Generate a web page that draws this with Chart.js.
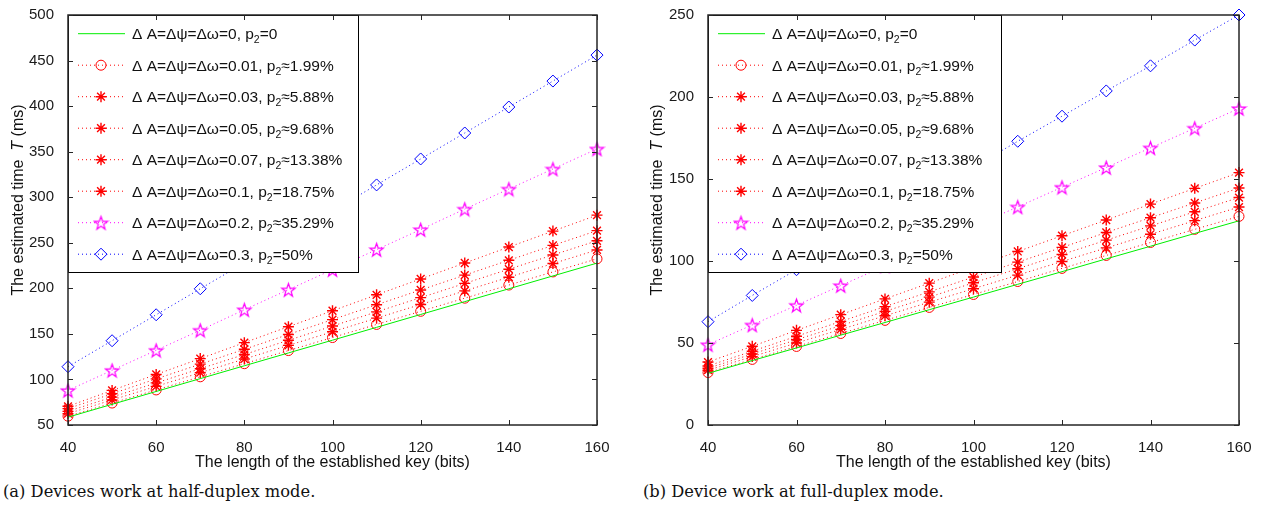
<!DOCTYPE html>
<html>
<head>
<meta charset="utf-8">
<script src="https://cdn.jsdelivr.net/npm/chart.js@4.4.0/dist/chart.umd.min.js"></script>
<style>
  body { margin: 0; background: #fff; width: 1261px; height: 505px; position: relative; overflow: hidden; }
  .box { position: absolute; top: 0; height: 478px; }
  .cap { position: absolute; top: 482px; font-family: "DejaVu Serif", serif; font-size: 16.3px; color: #111; white-space: nowrap; }
</style>
</head>
<body>
<div class="box" style="left:0;width:640px"><canvas id="half"></canvas></div>
<div class="box" style="left:640px;width:621px"><canvas id="full"></canvas></div>
<div class="cap" style="left:3px">(a) Devices work at half-duplex mode.</div>
<div class="cap" style="left:643px">(b) Device work at full-duplex mode.</div>
<script>
// key length (bits)
const keyBits = [40, 50, 60, 70, 80, 90, 100, 110, 120, 130, 140, 150, 160];

const seriesLabels = [
  'Δ A=Δψ=Δω=0, p₂=0',
  'Δ A=Δψ=Δω=0.01, p₂≈1.99%',
  'Δ A=Δψ=Δω=0.03, p₂≈5.88%',
  'Δ A=Δψ=Δω=0.05, p₂≈9.68%',
  'Δ A=Δψ=Δω=0.07, p₂≈13.38%',
  'Δ A=Δψ=Δω=0.1, p₂=18.75%',
  'Δ A=Δψ=Δω=0.2, p₂≈35.29%',
  'Δ A=Δψ=Δω=0.3, p₂=50%'
];

// (a) half-duplex, T in ms
const halfIdeal  = [58.6, 72.7, 86.8, 100.9, 115.0, 129.1, 143.1, 157.2, 171.3, 185.4, 199.5, 213.6, 227.7];
const halfErr001 = [59.7, 74.1, 88.5, 102.9, 117.3, 131.7, 146.0, 160.4, 174.8, 189.2, 203.6, 218.0, 232.4];
const halfErr003 = [62.5, 77.5, 92.4, 107.4, 122.4, 137.4, 152.3, 167.3, 182.3, 197.2, 212.2, 227.2, 242.1];
const halfErr005 = [65.0, 80.6, 96.2, 111.8, 127.4, 143.0, 158.6, 174.2, 189.8, 205.4, 221.0, 236.6, 252.2];
const halfErr007 = [68.0, 84.3, 100.6, 116.8, 133.1, 149.4, 165.7, 182.0, 198.2, 214.5, 230.8, 247.1, 263.3];
const halfErr01  = [70.5, 88.0, 105.5, 122.9, 140.4, 157.9, 175.4, 192.9, 210.3, 227.8, 245.3, 262.8, 280.3];
const halfErr02  = [88, 110, 132, 154, 176.5, 198.5, 220.5, 242.5, 264.5, 287, 309, 331, 353];
const halfErr03  = [114, 142.5, 171, 199.5, 228, 256.5, 285, 313.5, 342, 370.5, 399, 427.5, 456];

// (b) full-duplex, T in ms
const fullIdeal  = [31.5, 39.3, 47.0, 54.8, 62.5, 70.3, 78.0, 85.8, 93.5, 101.3, 109.0, 116.8, 124.5];
const fullErr001 = [32.0, 40.0, 47.9, 55.8, 63.8, 71.7, 79.6, 87.5, 95.5, 103.4, 111.3, 119.3, 127.2];
const fullErr003 = [33.4, 41.7, 50.0, 58.3, 66.6, 74.9, 83.1, 91.4, 99.7, 108.0, 116.3, 124.6, 132.9];
const fullErr005 = [34.6, 43.3, 52.0, 60.6, 69.3, 78.0, 86.7, 95.3, 104.0, 112.7, 121.4, 130.0, 138.7];
const fullErr007 = [36.0, 45.0, 54.1, 63.1, 72.2, 81.2, 90.2, 99.3, 108.3, 117.4, 126.4, 135.4, 144.5];
const fullErr01  = [38.4, 48.0, 57.7, 67.3, 76.9, 86.5, 96.2, 105.8, 115.4, 125.0, 134.7, 144.3, 153.9];
const fullErr02  = [49, 61, 73, 85, 97, 109, 121, 133, 145, 157, 169, 181, 193];
const fullErr03  = [63, 79, 94.7, 110.3, 126, 141.7, 157.3, 173, 188.3, 203.7, 219, 234.7, 250];

const xTitle = 'The length of the established key (bits)';
const FONT = '"Liberation Sans", Arial, sans-serif';
const AXIS = '#262626';

// matlab style pentagram marker
function pentagram(color, r) {
  const c = document.createElement('canvas');
  const s = Math.ceil(2 * r + 3);
  c.width = c.height = s;
  const g = c.getContext('2d');
  g.strokeStyle = color;
  g.lineWidth = 1.2;
  g.beginPath();
  for (let i = 0; i < 10; i++) {
    const a = -Math.PI / 2 + i * Math.PI / 5;
    const rr = i % 2 ? r * 0.4 : r;
    g.lineTo(s / 2 + rr * Math.cos(a), s / 2 + 0.8 + rr * Math.sin(a));
  }
  g.closePath();
  g.stroke();
  return c;
}

function makeSets(vals) {
  const red = '#ff0000';
  const dotted = (color, style, r, bw, data) => ({
    data: keyBits.map((x, i) => ({ x, y: data[i] })),
    borderColor: color, borderWidth: 1, borderDash: [1, 3],
    pointStyle: style, pointRadius: r, pointBorderColor: color,
    pointBackgroundColor: 'rgba(0,0,0,0)', pointBorderWidth: bw,
    clip: false
  });
  return [
    { data: keyBits.map((x, i) => ({ x, y: vals[0][i] })), borderColor: '#00ee00', borderWidth: 1,
      pointRadius: 0, clip: false },
    dotted(red, 'circle', 5, 1, vals[1]),
    dotted(red, 'star', 5.5, 1.4, vals[2]),
    dotted(red, 'star', 5.5, 1.4, vals[3]),
    dotted(red, 'star', 5.5, 1.4, vals[4]),
    dotted(red, 'star', 5.5, 1.4, vals[5]),
    dotted('#ff00ff', pentagram('#ff00ff', 7), 7, 1, vals[6]),
    dotted('#0000ff', 'rectRot', 6, 1, vals[7])
  ].map((d, i) => Object.assign(d, { label: seriesLabels[i] }));
}

function drawLabel(ctx, text, x, y) {
  const parts = text.split('₂');
  ctx.font = '15.5px ' + FONT;
  ctx.fillText(parts[0], x, y);
  x += ctx.measureText(parts[0]).width;
  ctx.font = '10.5px ' + FONT;
  ctx.fillText('2', x, y + 4);
  x += ctx.measureText('2').width;
  ctx.font = '15.5px ' + FONT;
  ctx.fillText(parts[1], x, y);
}

const framePlugin = {
  id: 'frame',
  afterDatasetsDraw(chart, args, opts) {
    const ctx = chart.ctx;
    const { left, top } = chart.chartArea;
    ctx.save();
    ctx.fillStyle = '#fff';
    ctx.fillRect(left, top, opts.legendWidth, 257);
    ctx.strokeStyle = '#000';
    ctx.lineWidth = 1;
    ctx.strokeRect(left + 0.5, top + 0.5, opts.legendWidth, 257);
    chart.data.datasets.forEach((ds, i) => {
      const y = top + 18.7 + 31.5 * i;
      ctx.strokeStyle = ds.borderColor;
      ctx.lineWidth = 1;
      ctx.setLineDash(ds.borderDash || []);
      ctx.beginPath();
      ctx.moveTo(left + 10, y);
      ctx.lineTo(left + 57, y);
      ctx.stroke();
      ctx.setLineDash([]);
      if (ds.pointRadius > 0) {
        ctx.fillStyle = 'rgba(0,0,0,0)';
        ctx.lineWidth = ds.pointBorderWidth;
        Chart.helpers.drawPoint(ctx, { pointStyle: ds.pointStyle, radius: ds.pointRadius,
          rotation: 0, borderWidth: ds.pointBorderWidth }, left + 33, y);
      }
      ctx.fillStyle = '#111';
      ctx.textBaseline = 'alphabetic';
      ctx.textAlign = 'left';
      drawLabel(ctx, ds.label, left + 64, y + 5.5);
    });
    ctx.restore();
  },
  afterDraw(chart, args, opts) {
    const ctx = chart.ctx;
    const { left, right, top, bottom } = chart.chartArea;
    const xs = chart.scales.x, ys = chart.scales.y;
    ctx.save();
    ctx.strokeStyle = AXIS;
    ctx.lineWidth = 1.5;
    ctx.strokeRect(left, top, right - left, bottom - top);
    ctx.lineWidth = 1;
    ctx.beginPath();
    ys.ticks.forEach(t => {
      const p = Math.round(ys.getPixelForValue(t.value)) + 0.5;
      ctx.moveTo(left, p); ctx.lineTo(left + 5, p);
      ctx.moveTo(right, p); ctx.lineTo(right - 5, p);
    });
    xs.ticks.forEach(t => {
      const p = Math.round(xs.getPixelForValue(t.value)) + 0.5;
      ctx.moveTo(p, bottom); ctx.lineTo(p, bottom - 5);
      ctx.moveTo(p, top); ctx.lineTo(p, top + 5);
    });
    ctx.stroke();

    // axis titles
    ctx.fillStyle = '#111';
    ctx.textBaseline = 'alphabetic';
    ctx.textAlign = 'center';
    ctx.font = '16px ' + FONT;
    ctx.fillText(xTitle, (left + right) / 2, 466.7);

    const a = 'The estimated time  ', b = 'T', c = ' (ms)';
    ctx.font = '16px ' + FONT;
    const wa = ctx.measureText(a).width, wc = ctx.measureText(c).width;
    ctx.font = 'italic 16px ' + FONT;
    const wb = ctx.measureText(b).width;
    ctx.translate(opts.yTitleX, 200);
    ctx.rotate(-Math.PI / 2);
    ctx.textAlign = 'left';
    let x = -(wa + wb + wc) / 2;
    ctx.font = '16px ' + FONT;
    ctx.fillText(a, x, 0);
    ctx.font = 'italic 16px ' + FONT;
    ctx.fillText(b, x + wa, 0);
    ctx.font = '16px ' + FONT;
    ctx.fillText(c, x + wa + wb, 0);
    ctx.restore();
  }
};

function makeChart(id, vals, yMin, yMax, padRight, legendWidth, yTitleX) {
  return new Chart(document.getElementById(id), {
    type: 'line',
    data: { datasets: makeSets(vals) },
    options: {
      responsive: true,
      maintainAspectRatio: false,
      animation: false,
      events: [],
      layout: { padding: { left: 0, top: 8, right: padRight, bottom: 0 } },
      plugins: {
        legend: { display: false },
        tooltip: { enabled: false },
        frame: { legendWidth, yTitleX }
      },
      scales: {
        x: {
          type: 'linear', min: 40, max: 160,
          grid: { display: false }, border: { display: false },
          ticks: { stepSize: 20, padding: 6, color: '#1a1a1a', font: { family: FONT, size: 15 } },
          afterFit: s => { s.height = 53; }
        },
        y: {
          min: yMin, max: yMax,
          grid: { display: false }, border: { display: false },
          ticks: { stepSize: 50, padding: 6, color: '#1a1a1a', font: { family: FONT, size: 15 } },
          afterFit: s => { s.width = 68; }
        }
      }
    },
    plugins: [framePlugin]
  });
}

makeChart('half',
  [halfIdeal, halfErr001, halfErr003, halfErr005, halfErr007, halfErr01, halfErr02, halfErr03],
  50, 500, 43, 290, 22.7);
makeChart('full',
  [fullIdeal, fullErr001, fullErr003, fullErr005, fullErr007, fullErr01, fullErr02, fullErr03],
  0, 250, 22, 293, 22);
</script>
</body>
</html>
